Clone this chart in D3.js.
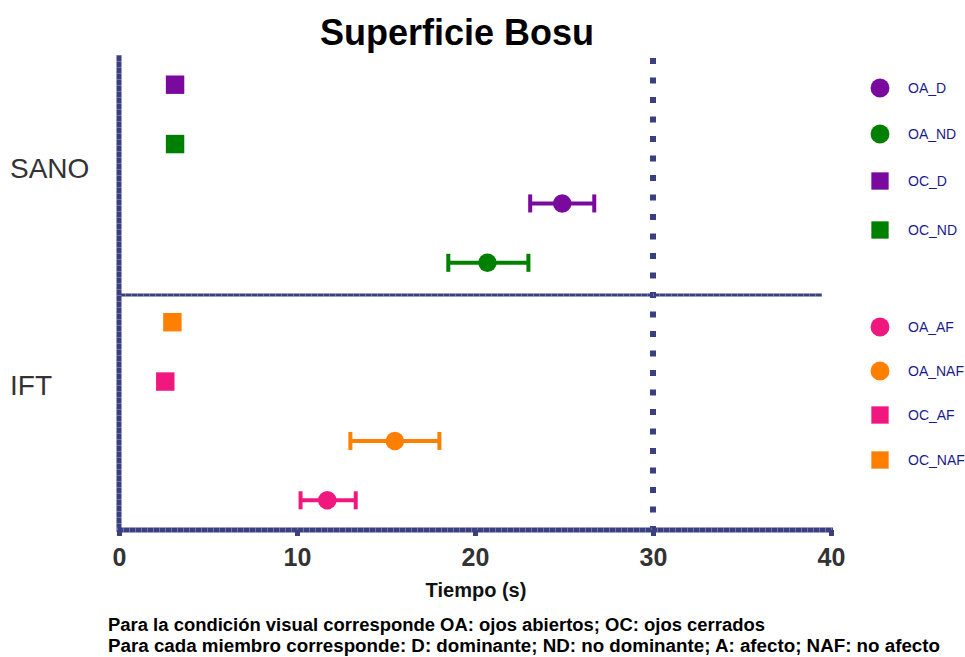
<!DOCTYPE html>
<html>
<head>
<meta charset="utf-8">
<script src="https://cdn.jsdelivr.net/npm/d3@7"></script>
<style>
  body { margin: 0; background: #fff; }
  svg { display: block; }
</style>
</head>
<body>
<svg id="chart" width="965" height="657"></svg>
<script>
// rows top to bottom
const rows = ["OC_D", "OC_ND", "OA_D", "OA_ND", "OC_NAF", "OC_AF", "OA_NAF", "OA_AF"];
const means = [3.15, 3.15, 24.9, 20.7, 3.0, 2.6, 15.5, 11.7];
const lows = [null, null, 23.1, 18.5, null, null, 13.0, 10.2];
const highs = [null, null, 26.7, 23.0, null, null, 18.0, 13.3];
const shapes = ["square", "square", "circle", "circle", "square", "square", "circle", "circle"];
const colors = ["#7a0a9e", "#008000", "#7a0a9e", "#008000", "#ff8000", "#f0187f", "#ff8000", "#f0187f"];

const groups = ["SANO", "IFT"];
const legendSano = ["OA_D", "OA_ND", "OC_D", "OC_ND"];
const legendIft = ["OA_AF", "OA_NAF", "OC_AF", "OC_NAF"];
const xTicks = [0, 10, 20, 30, 40];
const refLine = 30;

const axisColor = "#393f80";
const svg = d3.select("#chart");

const x = d3.scaleLinear().domain([0, 40]).range([119, 831]);
const y = d3.scalePoint().domain(rows).range([55, 530]).padding(0.5);

const colorOf = {};
const shapeOf = {};
rows.forEach((r, i) => { colorOf[r] = colors[i]; shapeOf[r] = shapes[i]; });

// thick navy line with faint light stripes, like the reference
function stripedLine(x1, y1, x2, y2, w) {
    svg.append("line")
        .attr("x1", x1).attr("x2", x2).attr("y1", y1).attr("y2", y2)
        .attr("stroke", axisColor).attr("stroke-width", w);
    svg.append("line")
        .attr("x1", x1).attr("x2", x2).attr("y1", y1).attr("y2", y2)
        .attr("stroke", "rgba(255,255,255,0.28)").attr("stroke-width", w)
        .attr("stroke-dasharray", "1,5");
}

// title
svg.append("text")
    .attr("x", 457).attr("y", 45)
    .attr("text-anchor", "middle")
    .style("font-family", "Liberation Sans, Arial, sans-serif")
    .style("font-weight", "bold")
    .style("font-size", "36px")
    .style("fill", "#000")
    .text("Superficie Bosu");

// reference dotted line
svg.append("line")
    .attr("x1", x(refLine)).attr("x2", x(refLine))
    .attr("y1", 58).attr("y2", 530)
    .attr("stroke", axisColor)
    .attr("stroke-width", 6)
    .attr("stroke-dasharray", "6,13.5");

// divider between groups
stripedLine(119, 295, 822, 295, 3);

// left axis
stripedLine(119, 55, 119, 532, 5);

// bottom axis
const xAxis = svg.append("g")
    .attr("transform", "translate(0,530)")
    .call(d3.axisBottom(x).tickValues(xTicks).tickSize(6).tickSizeOuter(0).tickPadding(12));
xAxis.select(".domain").remove();
stripedLine(117, 530, 833, 530, 5);
xAxis.raise();
xAxis.selectAll(".tick line")
    .attr("stroke", axisColor)
    .attr("stroke-width", 5)
    .attr("y1", 0);
xAxis.selectAll(".tick text")
    .attr("dy", "0.71em")
    .style("font-family", "Liberation Sans, Arial, sans-serif")
    .style("font-weight", "bold")
    .style("font-size", "25px")
    .style("fill", "#333");

svg.append("text")
    .attr("x", 476).attr("y", 597)
    .attr("text-anchor", "middle")
    .style("font-family", "Liberation Sans, Arial, sans-serif")
    .style("font-weight", "bold")
    .style("font-size", "20px")
    .style("fill", "#111")
    .text("Tiempo (s)");

// group labels
const groupY = [178, 395];
svg.selectAll(".grp")
    .data(groups)
    .join("text")
    .attr("x", 10)
    .attr("y", (d, i) => groupY[i])
    .style("font-family", "Liberation Sans, Arial, sans-serif")
    .style("font-size", "28px")
    .style("fill", "#333")
    .text(d => d);

// error bars
const errData = rows.map((r, i) => ({ r, lo: lows[i], hi: highs[i] })).filter(d => d.lo !== null);
const eb = svg.selectAll(".err").data(errData).join("g");
eb.append("line")
    .attr("x1", d => x(d.lo)).attr("x2", d => x(d.hi))
    .attr("y1", d => y(d.r)).attr("y2", d => y(d.r))
    .attr("stroke", d => colorOf[d.r]).attr("stroke-width", 4);
eb.append("line")
    .attr("x1", d => x(d.lo)).attr("x2", d => x(d.lo))
    .attr("y1", d => y(d.r) - 9).attr("y2", d => y(d.r) + 9)
    .attr("stroke", d => colorOf[d.r]).attr("stroke-width", 4);
eb.append("line")
    .attr("x1", d => x(d.hi)).attr("x2", d => x(d.hi))
    .attr("y1", d => y(d.r) - 9).attr("y2", d => y(d.r) + 9)
    .attr("stroke", d => colorOf[d.r]).attr("stroke-width", 4);

// markers
const sym = s => d3.symbol().type(s === "circle" ? d3.symbolCircle : d3.symbolSquare).size(s === "circle" ? 270 : 340);
svg.selectAll(".pt")
    .data(rows)
    .join("path")
    .attr("transform", (d, i) => `translate(${x(means[i])},${y(d)})`)
    .attr("d", d => sym(shapeOf[d])())
    .attr("fill", d => colorOf[d]);

// legends
const legY1 = [88, 134, 181, 230];
const legY2 = [327, 371, 415, 460];
function legend(items, ys) {
    const g = svg.append("g");
    items.forEach((k, i) => {
        g.append("path")
            .attr("transform", `translate(880,${ys[i]})`)
            .attr("d", d3.symbol().type(shapeOf[k] === "circle" ? d3.symbolCircle : d3.symbolSquare)
                .size(shapeOf[k] === "circle" ? 280 : 300)())
            .attr("fill", colorOf[k]);
        g.append("text")
            .attr("x", 908).attr("y", ys[i] + 5)
            .style("font-family", "Liberation Sans, Arial, sans-serif")
            .style("font-size", "14px")
            .style("fill", "#1a1a8c")
            .text(k);
    });
}
legend(legendSano, legY1);
legend(legendIft, legY2);

// footnotes
const notes = [
    "Para la condición visual corresponde OA: ojos abiertos; OC: ojos cerrados",
    "Para cada miembro corresponde: D: dominante; ND: no dominante; A: afecto; NAF: no afecto"
];
const noteWidths = [657, 832];
svg.selectAll(".note")
    .data(notes)
    .join("text")
    .attr("x", 108)
    .attr("y", (d, i) => 631 + i * 21)
    .attr("textLength", (d, i) => noteWidths[i])
    .attr("lengthAdjust", "spacingAndGlyphs")
    .style("font-family", "Liberation Sans Narrow, Arial Narrow, Liberation Sans, sans-serif")
    .style("font-weight", "bold")
    .style("font-size", "18px")
    .style("fill", "#000")
    .text(d => d);
</script>
</body>
</html>
